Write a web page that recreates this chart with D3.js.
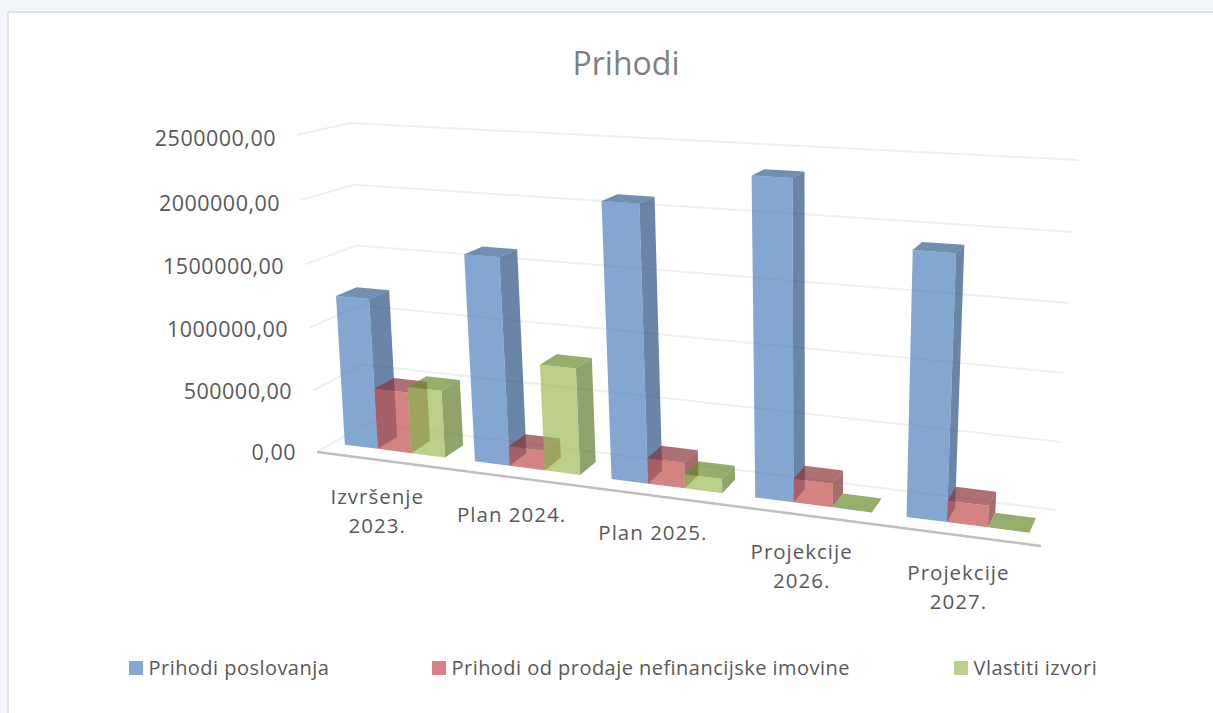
<!DOCTYPE html>
<html><head><meta charset="utf-8">
<script src="https://cdn.jsdelivr.net/npm/d3@7"></script>
<style>html,body{margin:0;padding:0;background:#f2f6fa;overflow:hidden}
text{font-family:"Open Sans","Noto Sans",sans-serif}</style></head><body>
<svg id="c" width="1213" height="713"></svg>
<script>
const categories=[["Izvršenje","2023."],["Plan 2024."],["Plan 2025."],["Projekcije","2026."],["Projekcije","2027."]];
const seriesNames=["Prihodi poslovanja","Prihodi od prodaje nefinancijske imovine","Vlastiti izvori"];
const prihodiPoslovanja=[1210000,1625000,2100000,2350000,1900000];
const prihodiProdaje=[490000,155000,195000,175000,155000];
const vlastitiIzvori=[535000,825000,108000,0,0];
const seriesValues=[prihodiPoslovanja,prihodiProdaje,vlastitiIzvori];
const yTicks=[0,500000,1000000,1500000,2000000,2500000];
const frontColors=["#4F81BD","#C0504D","#9BBB59"];
const sideColors=["#2B5183","#7F2F2D","#607E2C"];
const topColors=["#35608F","#8A3338","#6A8C2E"];

// perspective box of the plot, as seen on screen
const floor={fl:[317,452],fr:[1041,546],br:[1056,510],bl:[366,423]};
const ceil={fl:[297,135],fr:[1064,176],br:[1078,160],bl:[350,123]};
function homography(q){
  const dx1=q.fr[0]-q.br[0],dy1=q.fr[1]-q.br[1],dx2=q.bl[0]-q.br[0],dy2=q.bl[1]-q.br[1];
  const sx=q.fl[0]-q.fr[0]+q.br[0]-q.bl[0],sy=q.fl[1]-q.fr[1]+q.br[1]-q.bl[1];
  const det=dx1*dy2-dy1*dx2;
  const g=(sx*dy2-sy*dx2)/det,h=(dx1*sy-dy1*sx)/det;
  const a=q.fr[0]-q.fl[0]+g*q.fr[0],b=q.bl[0]-q.fl[0]+h*q.bl[0];
  const d=q.fr[1]-q.fl[1]+g*q.fr[1],e=q.bl[1]-q.fl[1]+h*q.bl[1];
  return (u,v)=>{const w=g*u+h*v+1;return [(a*u+b*v+q.fl[0])/w,(d*u+e*v+q.fl[1])/w];};
}
const H0=homography(floor),H1=homography(ceil);
const yScale=d3.scaleLinear().domain([0,2500000]).range([0,1]);
const foreshorten=k=>u=>u/(1+k*(1-u)); // extra perspective along an axis
const warpX=foreshorten(0.055),warpY=foreshorten(0.035);
const project=(u,d,val)=>{const t=warpY(yScale(val)),a=H0(warpX(u),d),b=H1(warpX(u),d);return [a[0]+(b[0]-a[0])*t,a[1]+(b[1]-a[1])*t];};
const xBand=d3.scaleBand().domain(d3.range(categories.length)).range([0,1]).paddingInner(0.225).paddingOuter(0.1);
const sBand=d3.scaleBand().domain(d3.range(seriesNames.length)).range([0,xBand.bandwidth()]);
const d0=0.30,d1=0.71;

const svg=d3.select("#c");
svg.append("rect").attr("x",8).attr("y",12).attr("width",1215).attr("height",720).attr("fill","#fff").attr("stroke","#d9d9d9").attr("stroke-width",1.5);
const line=d3.line();
const grid=svg.append("g").attr("fill","none").attr("stroke","#efefef").attr("stroke-width",2);
yTicks.forEach(t=>{grid.append("path").attr("d",line([project(0,0,t),project(0,1,t),project(1,1,t)]));});
svg.append("path").attr("d",line([project(0,0,0),project(1,0,0)])).attr("stroke","#bfbfbf").attr("stroke-width",2.5).attr("fill","none");
svg.append("g").selectAll("text").data(yTicks).join("text")
  .attr("x",t=>project(0,0,t)[0]-21).attr("y",t=>project(0,0,t)[1]+8+3*yScale(t))
  .attr("text-anchor","end").attr("font-size",21.5).attr("letter-spacing",0.5).attr("fill","#595959")
  .text(t=>d3.format(".2f")(t).replace(".",","));
const bars=svg.append("g");
categories.forEach((c,i)=>{
  seriesValues.forEach((vals,s)=>{
    const u0=xBand(i)+sBand(s),u1=u0+sBand.bandwidth(),v=vals[i];
    const g=bars.append("g").attr("fill-opacity",0.7);
    if(v>0){g.append("path").attr("fill",sideColors[s]).attr("d",line([project(u1,d0,0),project(u1,d1,0),project(u1,d1,v),project(u1,d0,v)])+"Z");}
    g.append("path").attr("fill",topColors[s]).attr("d",line([project(u0,d0,v),project(u1,d0,v),project(u1,d1,v),project(u0,d1,v)])+"Z");
    if(v>0){g.append("path").attr("fill",frontColors[s]).attr("d",line([project(u0,d0,0),project(u1,d0,0),project(u1,d0,v),project(u0,d0,v)])+"Z");}
  });
});
const cat=svg.append("g").attr("font-size",20.5).attr("letter-spacing",1).attr("fill","#595959").attr("text-anchor","middle");
categories.forEach((lines,i)=>{
  const p=project(xBand(i)+xBand.bandwidth()/2,0,0);
  lines.forEach((t,k)=>cat.append("text").attr("x",p[0]-3).attr("y",p[1]+44+k*29).text(t));
});
svg.append("text").attr("x",626).attr("y",75).attr("text-anchor","middle").attr("font-size",32).attr("fill","#808080").text("Prihodi");
const legendX=[129,432,954];
const lg=svg.append("g");
seriesNames.forEach((n,s)=>{
  lg.append("rect").attr("x",legendX[s]).attr("y",661).attr("width",14).attr("height",14).attr("fill",frontColors[s]).attr("fill-opacity",0.7);
  lg.append("text").attr("x",legendX[s]+19.5).attr("y",675).attr("font-size",20).attr("letter-spacing",0.46).attr("fill","#595959").text(n);
});
</script></body></html>
